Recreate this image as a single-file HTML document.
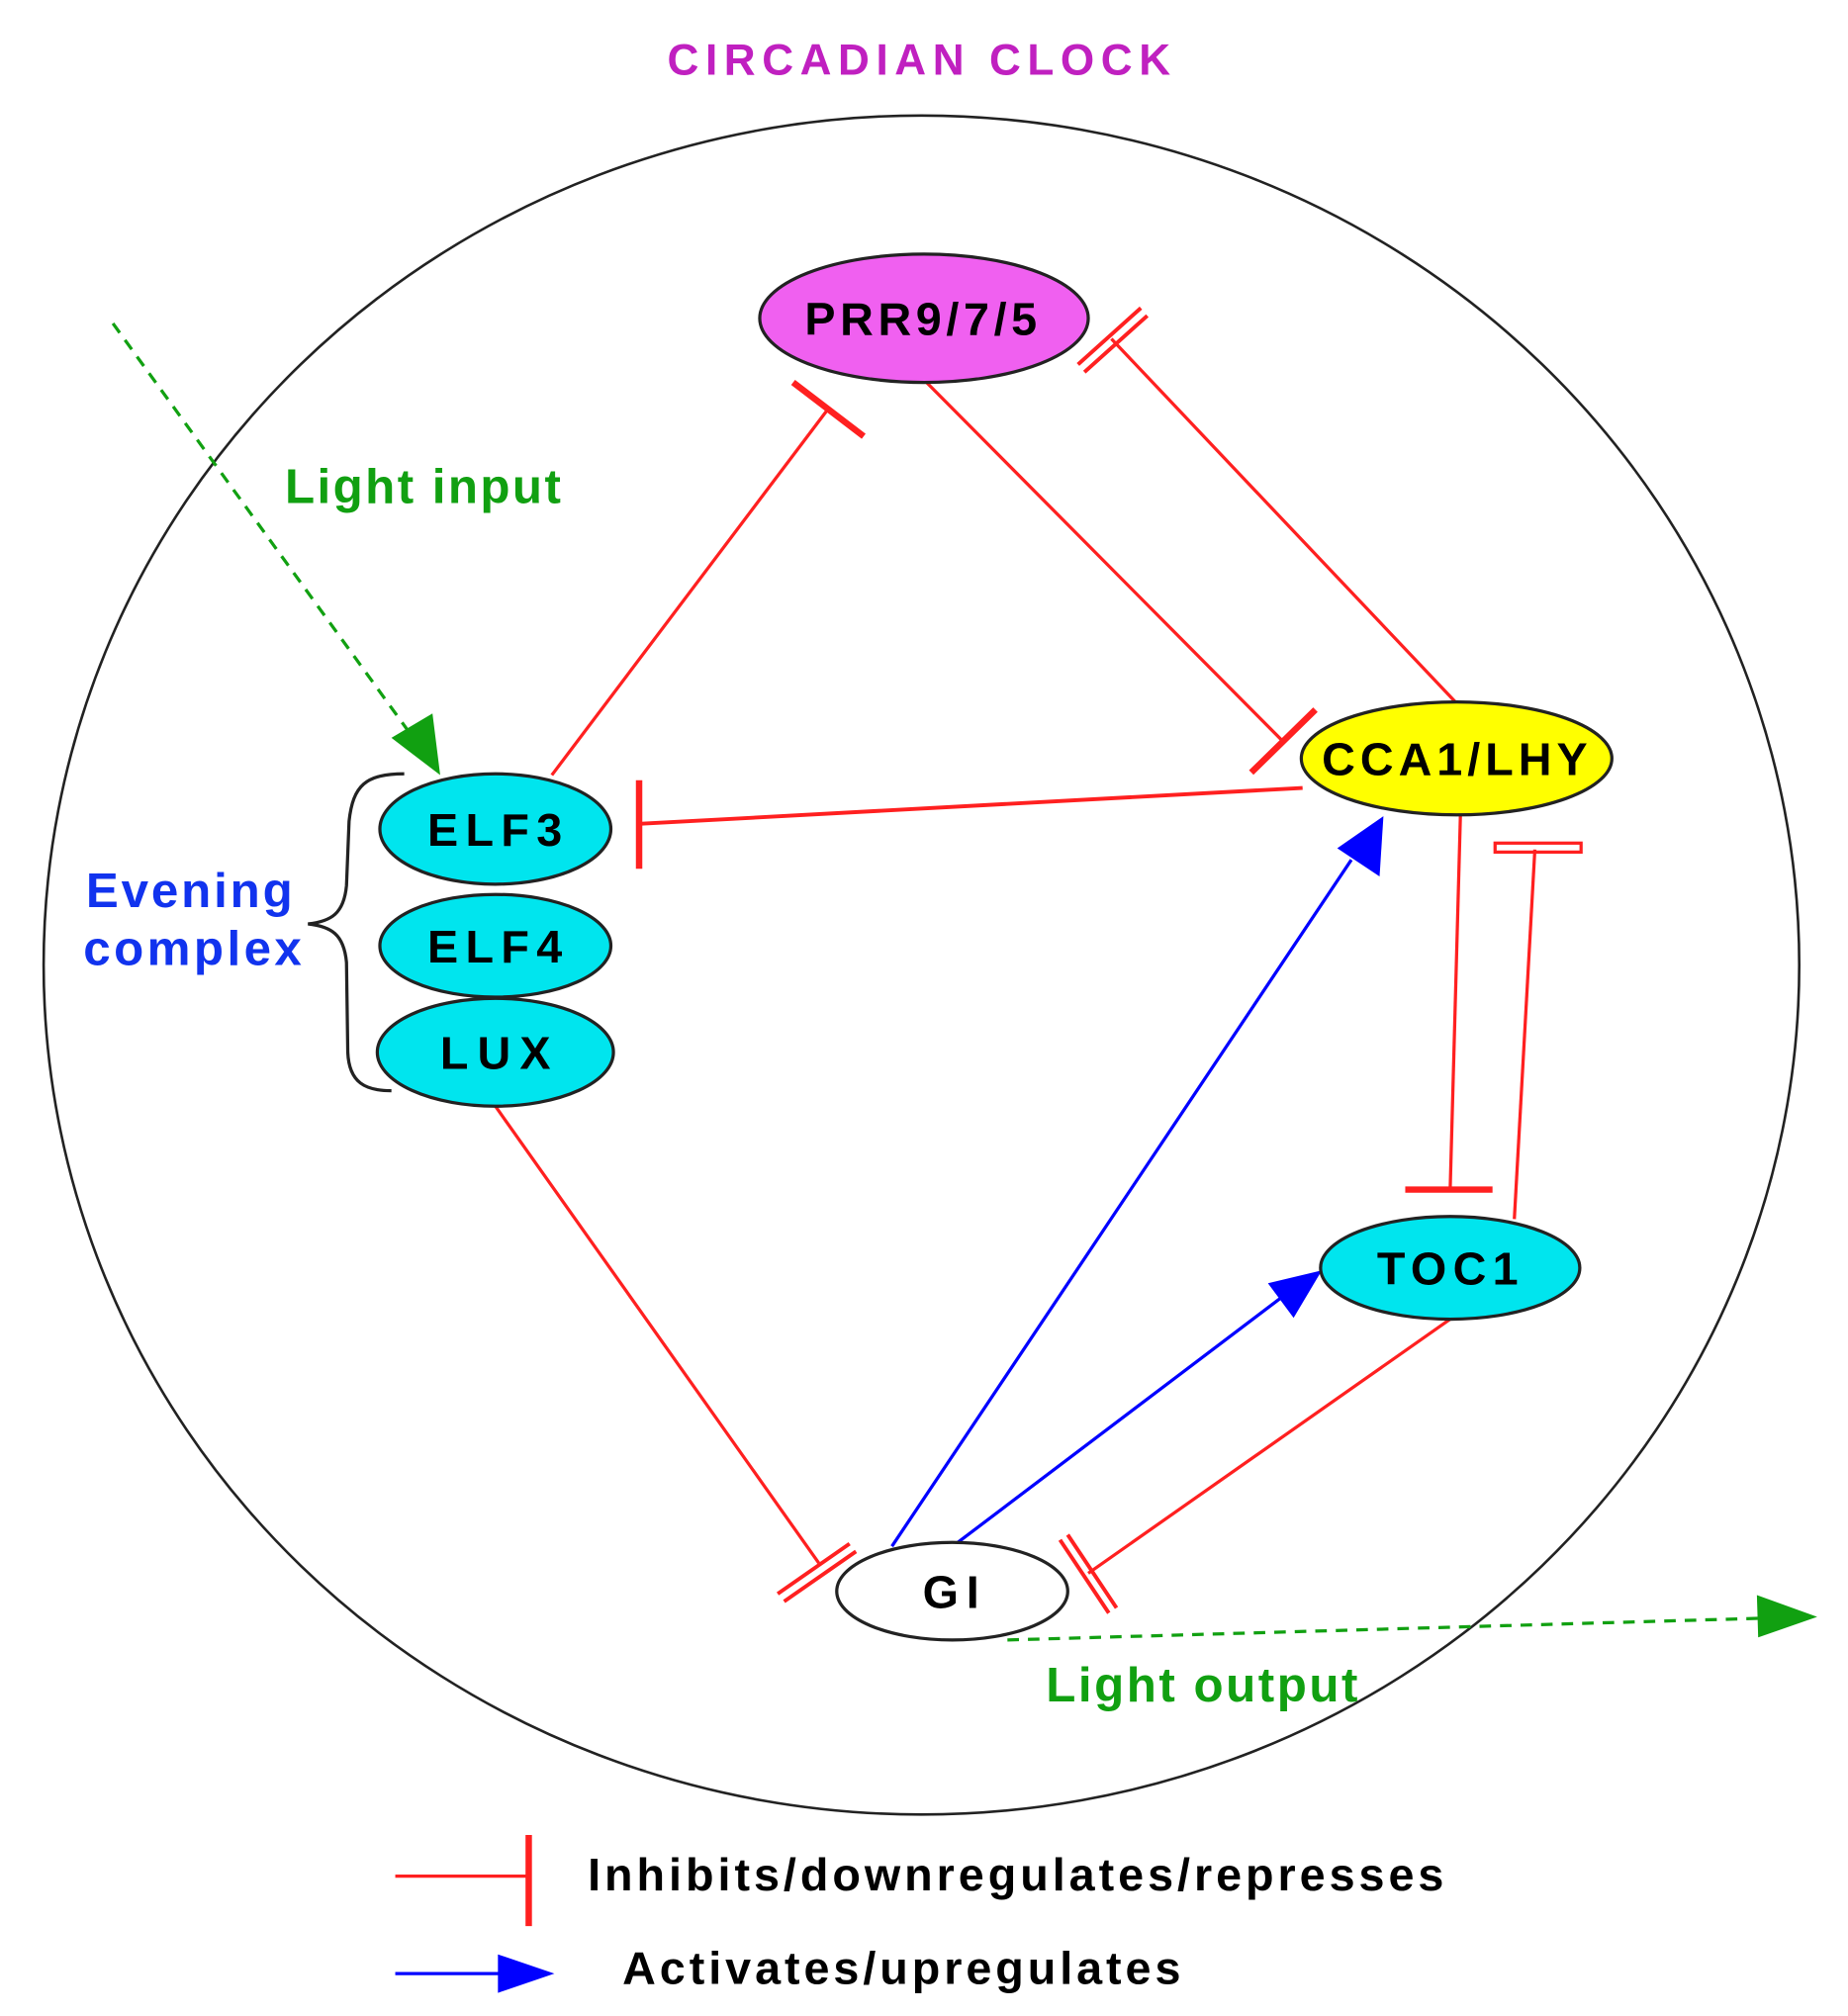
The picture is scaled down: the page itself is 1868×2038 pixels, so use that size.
<!DOCTYPE html>
<html><head><meta charset="utf-8"><style>
html,body{margin:0;padding:0;background:#fff;}
svg{display:block;}
text{font-family:"Liberation Sans",Arial,sans-serif;font-weight:bold;}
</style></head><body>
<svg width="1868" height="2038" viewBox="0 0 1440 1571" xmlns="http://www.w3.org/2000/svg">
<text x="520" y="58" font-size="34" fill="#c020c0" textLength="392" lengthAdjust="spacing">CIRCADIAN CLOCK</text>
<ellipse cx="718" cy="752" rx="684" ry="662" fill="none" stroke="#222" stroke-width="2"/>

<g stroke="#ff2020" stroke-width="2.5" fill="none">
<line x1="430" y1="604" x2="645" y2="319"/>
<line x1="618" y1="298" x2="673" y2="340" stroke-width="5"/>
<line x1="722" y1="298" x2="1000" y2="578"/>
<line x1="975" y1="602" x2="1025" y2="553" stroke-width="5"/>
<line x1="1135" y1="548" x2="866" y2="264"/>
<line x1="840" y1="284" x2="889" y2="240" stroke-width="3"/>
<line x1="845" y1="290" x2="894" y2="246" stroke-width="3"/>
<line x1="1015" y1="614" x2="498" y2="642" stroke-width="3"/>
<line x1="498" y1="608" x2="498" y2="677" stroke-width="5"/>
<line x1="1138" y1="635" x2="1130" y2="927"/>
<line x1="1095" y1="927" x2="1163" y2="927" stroke-width="5"/>
<line x1="1180" y1="950" x2="1196" y2="662"/>
<rect x="1165" y="657" width="67" height="7" stroke-width="2.5"/>
<line x1="386" y1="862" x2="638" y2="1218"/>
<line x1="606" y1="1242" x2="662" y2="1203" stroke-width="3"/>
<line x1="611" y1="1248" x2="667" y2="1209" stroke-width="3"/>
<line x1="1130" y1="1028" x2="848" y2="1226"/>
<line x1="826" y1="1200" x2="864" y2="1257" stroke-width="3"/>
<line x1="832" y1="1196" x2="870" y2="1253" stroke-width="3"/>
</g>

<g stroke="#0000ff" stroke-width="2.5">
<line x1="695" y1="1205" x2="1053" y2="670"/>
<path d="M1078,636 L1075,683 L1042,661 Z" fill="#0000ff" stroke="none"/>
<line x1="745" y1="1203" x2="1000" y2="1010"/>
<path d="M1030,990 L1008,1027 L988,1000 Z" fill="#0000ff" stroke="none"/>
</g>

<g stroke="#11a011" stroke-width="2.5" stroke-dasharray="9,7" fill="none">
<line x1="88" y1="252" x2="322" y2="575"/>
<line x1="785" y1="1278" x2="1375" y2="1261"/>
</g>
<path d="M343,604 L305,575 L337,556 Z" fill="#11a011"/>
<path d="M1416,1260 L1370,1276 L1369,1243 Z" fill="#11a011"/>

<path d="M315,603 C285,603 275,612 272,640 L270,690 C268,712 258,718 240,720 C258,722 268,728 270,750 L271,820 C272,844 285,850 305,850" fill="none" stroke="#222" stroke-width="2.5"/>

<g stroke="#222" stroke-width="2.5">
<ellipse cx="720" cy="248" rx="128" ry="50" fill="#f060f0"/>
<ellipse cx="1135" cy="591" rx="121" ry="44" fill="#ffff00"/>
<ellipse cx="386" cy="820" rx="92" ry="42" fill="#00e5ee"/>
<ellipse cx="386" cy="737" rx="90" ry="40" fill="#00e5ee"/>
<ellipse cx="386" cy="646" rx="90" ry="43" fill="#00e5ee"/>
<ellipse cx="1130" cy="988" rx="101" ry="40" fill="#00e5ee"/>
<ellipse cx="742" cy="1240" rx="90" ry="38" fill="#ffffff"/>
</g>

<g font-size="36" fill="#000">
<text x="627" y="261" textLength="181" lengthAdjust="spacing">PRR9/7/5</text>
<text x="1030" y="604" textLength="207" lengthAdjust="spacing">CCA1/LHY</text>
<text x="333" y="659" textLength="105" lengthAdjust="spacing">ELF3</text>
<text x="333" y="750" textLength="105" lengthAdjust="spacing">ELF4</text>
<text x="343" y="833" textLength="86" lengthAdjust="spacing">LUX</text>
<text x="1073" y="1001" textLength="110" lengthAdjust="spacing">TOC1</text>
<text x="719" y="1253" textLength="44" lengthAdjust="spacing">GI</text>
</g>

<text x="222" y="392" font-size="38" fill="#11a011" textLength="215" lengthAdjust="spacing">Light input</text>
<text x="815" y="1326" font-size="38" fill="#11a011" textLength="243" lengthAdjust="spacing">Light output</text>
<text x="67" y="707" font-size="38" fill="#1133ee" textLength="161" lengthAdjust="spacing">Evening</text>
<text x="65" y="752" font-size="38" fill="#1133ee" textLength="170" lengthAdjust="spacing">complex</text>

<line x1="308" y1="1462" x2="412" y2="1462" stroke="#ff2020" stroke-width="2.5"/>
<line x1="412" y1="1430" x2="412" y2="1501" stroke="#ff2020" stroke-width="5"/>
<text x="458" y="1473" font-size="36" fill="#000" textLength="667" lengthAdjust="spacing">Inhibits/downregulates/represses</text>
<line x1="308" y1="1538" x2="395" y2="1538" stroke="#0000ff" stroke-width="2.5"/>
<path d="M432,1538 L388,1523 L388,1553 Z" fill="#0000ff"/>
<text x="485" y="1546" font-size="36" fill="#000" textLength="435" lengthAdjust="spacing">Activates/upregulates</text>
</svg>
</body></html>
